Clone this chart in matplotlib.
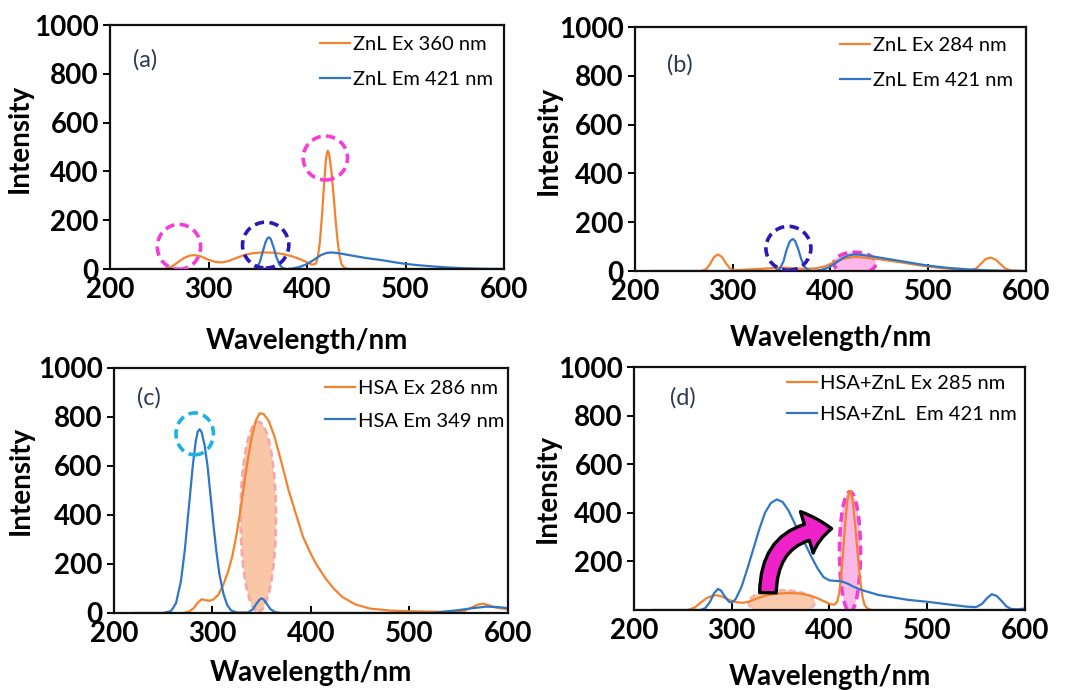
import matplotlib.pyplot as plt
from matplotlib.patches import Ellipse, FancyArrowPatch

plt.rcParams['font.family'] = ['Lato', 'DejaVu Sans']

ORANGE = '#F5822F'
BLUE = '#2F77C6'
MAGENTA = '#F43DD6'
NAVY = '#2A18B8'
CYAN = '#1CB2E6'

# (a) ZnL
a_ex_wl = [220, 255, 262, 268, 275, 281, 286, 292, 300, 307, 313, 320, 328, 336, 345, 355, 365, 375, 385, 393,
           400, 405, 409, 411, 413, 415, 417, 419, 420, 421, 422, 423, 425, 427, 429, 431, 433, 435, 438, 442, 600]
a_ex_int = [0, 0, 8, 25, 45, 55, 57, 52, 38, 29, 27, 32, 45, 57, 65, 68, 67, 62, 52, 40,
            28, 18, 22, 50, 110, 210, 330, 440, 472, 485, 477, 455, 390, 300, 200, 115, 55, 20, 5, 0, 0]
a_em_wl = [220, 345, 349, 352, 355, 358, 360, 361.5, 363, 366, 369, 372, 375, 379, 385, 392, 400, 407, 414, 420,
           425, 432, 440, 450, 460, 475, 490, 500, 515, 530, 545, 560, 580, 600]
a_em_int = [0, 0, 5, 28, 70, 112, 127, 130, 124, 90, 48, 18, 5, 0, 2, 8, 20, 38, 57, 66,
            68, 65, 59, 52, 45, 37, 27, 21, 15, 10, 6, 3, 1, 0]

# (b) ZnL
b_ex_wl = [220, 268, 273, 277, 281, 285, 289, 293, 297, 301, 310, 325, 340, 350, 360, 372, 385, 395, 405, 415,
           425, 435, 450, 470, 490, 510, 530, 543, 549, 554, 559, 564, 569, 574, 579, 585, 600]
b_ex_int = [0, 0, 8, 30, 58, 68, 58, 32, 12, 3, 5, 8, 12, 14, 12, 9, 11, 20, 38, 52,
            58, 55, 48, 37, 24, 14, 7, 4, 10, 30, 50, 55, 47, 28, 10, 2, 0]
b_em_wl = [220, 343, 348, 352, 355, 358, 360, 362, 364, 367, 370, 373, 377, 382, 390, 398, 405, 412, 418, 424,
           430, 440, 455, 470, 485, 500, 520, 540, 560, 580, 600]
b_em_int = [0, 0, 8, 40, 85, 118, 128, 131, 122, 90, 50, 20, 4, 0, 4, 14, 32, 52, 63, 68,
            67, 62, 52, 42, 32, 22, 13, 7, 3, 1, 0]

# (c) HSA
c_ex_wl = [270, 276, 281, 285, 289, 293, 297, 301, 306, 311, 316, 320, 324, 328, 332, 336, 340, 344, 348, 352,
           357, 363, 370, 377, 385, 392, 400, 406, 415, 423, 432, 445, 460, 480, 500, 530, 555, 563, 570, 575,
           580, 588, 600]
c_ex_int = [0, 5, 20, 42, 56, 52, 50, 55, 75, 115, 170, 230, 310, 410, 520, 630, 720, 785, 815, 812,
            785, 720, 615, 505, 400, 310, 240, 195, 140, 100, 65, 35, 18, 10, 7, 5, 8, 22, 35, 38,
            32, 22, 15]
c_em_wl = [220, 250, 258, 263, 268, 272, 276, 280, 283, 285, 287, 289, 292, 295, 298, 301, 304, 307, 311, 315,
           319, 325, 336, 341, 345, 348, 350, 352, 355, 359, 364, 370, 520, 535, 550, 565, 578, 590, 600]
c_em_int = [0, 0, 8, 40, 130, 260, 430, 600, 700, 740, 750, 738, 685, 600, 480, 360, 250, 160, 80, 32,
            10, 2, 2, 15, 40, 55, 60, 55, 38, 15, 3, 0, 0, 5, 12, 20, 26, 24, 20]

# (d) HSA + ZnL
d_ex_wl = [220, 255, 262, 268, 274, 279, 284, 289, 295, 301, 307, 312, 318, 326, 335, 345, 358, 370, 380, 388,
           395, 401, 405, 408, 410, 412, 414, 416, 418, 420, 421, 422, 424, 426, 428, 430, 432, 434, 436, 439,
           443, 600]
d_ex_int = [0, 0, 10, 30, 48, 57, 61, 57, 46, 36, 31, 30, 35, 48, 60, 67, 70, 68, 60, 48,
            35, 24, 22, 35, 70, 140, 240, 350, 440, 485, 490, 485, 440, 360, 270, 180, 105, 50, 20, 6,
            0, 0]
d_em_wl = [220, 268, 273, 278, 282, 286, 289, 293, 297, 300, 304, 310, 316, 322, 328, 334, 340, 346, 352, 358,
           364, 370, 376, 382, 388, 394, 400, 406, 412, 418, 425, 435, 450, 465, 480, 500, 520, 540, 550, 556,
           561, 566, 571, 576, 581, 586, 592, 600]
d_em_int = [0, 0, 8, 35, 70, 87, 80, 55, 35, 30, 45, 95, 170, 250, 330, 400, 440, 455, 445, 410,
            360, 305, 265, 215, 170, 135, 122, 120, 118, 110, 95, 80, 62, 52, 42, 34, 24, 14, 12, 25,
            48, 65, 58, 38, 15, 4, 3, 6]

x_ticks = [200, 300, 400, 500, 600]
y_ticks = [0, 200, 400, 600, 800, 1000]

panels = [
    dict(rect=[0.1033, 0.6101, 0.3700, 0.3536], tag='(a)', tag_xy=(0.058, 0.857),
         ex=(a_ex_wl, a_ex_int, 'ZnL Ex 360 nm'), em=(a_em_wl, a_em_int, 'ZnL Em 421 nm'),
         leg=(0.533, 0.957), ls=0.9, ylab=(-0.195, 0.537), xlab=(0.5, -0.242), yticks=y_ticks),
    dict(rect=[0.5962, 0.6072, 0.3671, 0.3536], tag='(b)', tag_xy=(0.082, 0.844),
         ex=(b_ex_wl, b_ex_int, 'ZnL Ex 284 nm'), em=(b_em_wl, b_em_int, 'ZnL Em 421 nm'),
         leg=(0.524, 0.96), ls=0.88, ylab=(-0.187, 0.537), xlab=(0.5, -0.221), yticks=y_ticks),
    dict(rect=[0.1070, 0.1116, 0.3700, 0.3551], tag='(c)', tag_xy=(0.058, 0.88),
         ex=(c_ex_wl, c_ex_int, 'HSA Ex 286 nm'), em=(c_em_wl, c_em_int, 'HSA Em 349 nm'),
         leg=(0.536, 0.95), ls=0.75, ylab=(-0.203, 0.543), xlab=(0.5, -0.192), yticks=y_ticks),
    dict(rect=[0.5953, 0.1159, 0.3671, 0.3522], tag='(d)', tag_xy=(0.092, 0.872),
         ex=(d_ex_wl, d_ex_int, 'HSA+ZnL Ex 285 nm'), em=(d_em_wl, d_em_int, 'HSA+ZnL  Em 421 nm'),
         leg=(0.391, 0.968), ls=0.7, ylab=(-0.187, 0.50), xlab=(0.5, -0.222), yticks=y_ticks[1:]),
]

fig = plt.figure(figsize=(10.65, 6.9), dpi=100)
axes = []
for p in panels:
    ax = fig.add_axes(p['rect'])
    ax.plot(p['ex'][0], p['ex'][1], color=ORANGE, lw=1.6, label=p['ex'][2], zorder=2)
    ax.plot(p['em'][0], p['em'][1], color=BLUE, lw=1.6, label=p['em'][2], zorder=2)
    ax.set_xlim(200, 600)
    ax.set_ylim(0, 1000)
    ax.set_xticks(x_ticks)
    ax.set_yticks(p['yticks'])
    for s in ax.spines.values():
        s.set_linewidth(1.6)
        s.set_color('#111111')
    ax.tick_params(axis='x', direction='in', length=5, width=1.4, pad=6, labelsize=20)
    ax.tick_params(axis='y', direction='out', length=5, width=1.4, pad=3, labelsize=20)
    for lab in ax.get_xticklabels() + ax.get_yticklabels():
        lab.set_fontweight('bold')
    ax.set_xlabel('Wavelength/nm', fontsize=20, fontweight='bold')
    ax.set_ylabel('Intensity', fontsize=20, fontweight='bold')
    ax.xaxis.set_label_coords(*p['xlab'])
    ax.yaxis.set_label_coords(*p['ylab'])
    ax.text(*p['tag_xy'], p['tag'], transform=ax.transAxes, fontsize=17, color='#2E3A50',
            va='center', ha='left')
    ax.legend(loc='upper left', bbox_to_anchor=p['leg'], frameon=False, fontsize=14.5,
              handlelength=1.5, handletextpad=0.15, labelspacing=p['ls'], borderpad=0,
              borderaxespad=0)
    axes.append(ax)

ax_a, ax_b, ax_c, ax_d = axes
dash = (0, (2.6, 1.5))

# dashed rings marking peaks
for ax, c, w, h, col in [(ax_a, (270, 91), 44, 184, MAGENTA),
                         (ax_a, (358, 98), 47, 188, NAVY),
                         (ax_a, (418.6, 455), 45, 180, MAGENTA),
                         (ax_b, (357, 93), 46, 180, NAVY),
                         (ax_c, (282, 731), 38, 171, CYAN)]:
    ax.add_patch(Ellipse(c, w, h, fill=False, edgecolor=col, lw=2.6, linestyle=dash, zorder=3))

# shaded overlap regions
ax_b.add_patch(Ellipse((425, 32), 43, 90, facecolor='#FBB6EA', edgecolor='#F23CC8',
                       lw=2.6, linestyle=dash, zorder=1.5))
ax_c.add_patch(Ellipse((346.5, 393), 36, 775, facecolor='#F9C09C', edgecolor='#F3A3A6',
                       lw=2.0, linestyle=dash, alpha=0.9, zorder=1.5))
ax_d.add_patch(Ellipse((351, 31), 68, 103, facecolor='#F9C09C', edgecolor='#F5A8A8',
                       lw=1.8, linestyle=dash, alpha=0.85, zorder=1.5))
ax_d.add_patch(Ellipse((421, 240), 21.5, 494, facecolor='#FAB8E6', edgecolor=MAGENTA,
                       lw=2.6, linestyle=dash, zorder=1.5))

# energy transfer arrow
arrow = FancyArrowPatch((337, 60), (405, 335), connectionstyle='arc3,rad=-0.5',
                        arrowstyle='simple,head_width=2.6,head_length=1.5,tail_width=1.0',
                        mutation_scale=12, facecolor='#EE22C8', edgecolor='black', lw=2.4, zorder=4)
ax_d.add_patch(arrow)

fig.savefig('out.png', dpi=100)
